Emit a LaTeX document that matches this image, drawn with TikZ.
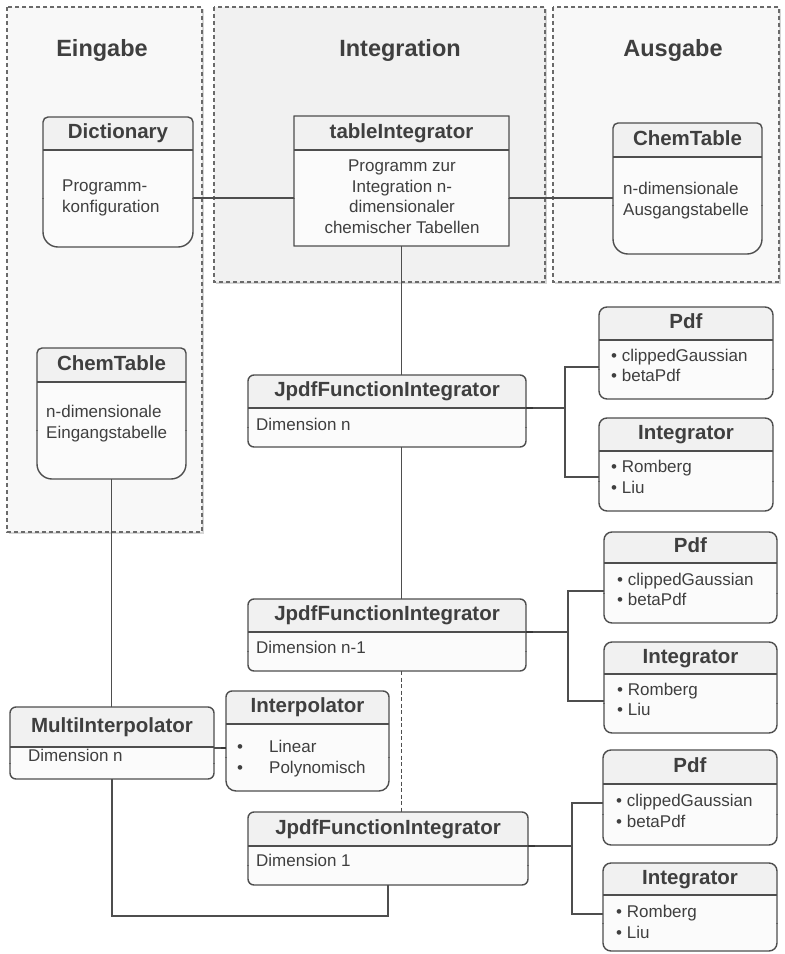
\documentclass[tikz,border=0pt]{standalone}
\usepackage{fontspec}
\setmainfont{Liberation Sans}
\usetikzlibrary{fit}

\definecolor{linec}{HTML}{4E4E4E}
\definecolor{textc}{HTML}{3F3F3F}
\definecolor{headc}{HTML}{F1F1F1}
\definecolor{bodyc}{HTML}{FBFBFB}
\definecolor{paneloutc}{HTML}{F8F8F8}
\definecolor{panelmidc}{HTML}{F1F1F1}
\definecolor{dashc}{HTML}{6A6A6A}
\definecolor{shadowc}{HTML}{D6D6D6}

\tikzset{
  conn/.style={draw=linec, line width=1.5pt},
  dashconn/.style={draw=linec, line width=1.4pt, dash pattern=on 4pt off 2.5pt},
  stub/.style={draw=linec!70!black, line width=2.8pt},
  panel/.style={draw=dashc, line width=1.1pt, dash pattern=on 4pt off 3pt},
  titletext/.style={font=\fontsize{23.5}{28}\selectfont\bfseries, text=textc, inner sep=0pt, anchor=base},
  headtext/.style={font=\fontsize{20.5}{24}\selectfont\bfseries, text=textc, inner sep=0pt,
    text height=0.716em, text depth=0pt, anchor=center},
  bodytext/.style={font=\fontsize{17}{21}\selectfont, text=textc, inner sep=0pt,
    text height=0.716em, text depth=0pt, anchor=west},
  boxarea/.style={inner sep=0pt, outer sep=0pt},
}

% class box: #1 name, #2 x1, #3 y1, #4 x2, #5 y2, #6 header line,
%            #7 upper corner radius, #8 lower corner radius, #9 title
\newcommand{\classbox}[9]{%
  \begin{scope}
    \clip (#2-5,#3-5) rectangle (#4+5,{(#6+#5)/2});
    \fill[bodyc, rounded corners=#7pt] (#2,#3) rectangle (#4,#5);
  \end{scope}
  \begin{scope}
    \clip (#2-5,{(#6+#5)/2}) rectangle (#4+5,#5+5);
    \fill[bodyc, rounded corners=#8pt] (#2,#3) rectangle (#4,#5);
  \end{scope}
  \begin{scope}
    \clip (#2-5,#3-5) rectangle (#4+5,#6);
    \fill[headc, rounded corners=#7pt] (#2,#3) rectangle (#4,#5);
  \end{scope}
  \draw[draw=linec, line width=1.4pt] (#2,#6) -- (#4,#6);
  \begin{scope}
    \clip (#2-5,#3-5) rectangle (#4+5,{(#6+#5)/2});
    \draw[draw=linec, line width=1.4pt, rounded corners=#7pt] (#2,#3) rectangle (#4,#5);
  \end{scope}
  \begin{scope}
    \clip (#2-5,{(#6+#5)/2}) rectangle (#4+5,#5+5);
    \draw[draw=linec, line width=1.4pt, rounded corners=#8pt] (#2,#3) rectangle (#4,#5);
  \end{scope}
  \node[boxarea, fit={(#2,#3) (#4,#5)}] (#1) {};
  \node[headtext] (#1-title) at ({(#2+#4)/2},{(#3+#6)/2+1.5}) {#9};
}

\begin{document}
\begin{tikzpicture}[x=1pt, y=-1pt]
  \fill[white] (0,0) rectangle (785,954);
  \useasboundingbox (0,0) rectangle (785,954);

  % ---- swimlanes ----
  \fill[shadowc] (9,9) rectangle (204,534);
  \fill[shadowc] (216,9) rectangle (547,284);
  \fill[shadowc] (555,9) rectangle (781,284);
  \filldraw[panel, fill=paneloutc] (7,7) rectangle (202,532);
  \filldraw[panel, fill=panelmidc] (214,7) rectangle (545,282);
  \filldraw[panel, fill=paneloutc] (553,7) rectangle (779,282);

  \node[titletext] (lane-in)  at (102,56) {Eingabe};
  \node[titletext] (lane-int) at (400,56) {Integration};
  \node[titletext] (lane-out) at (673,56) {Ausgabe};

  % ---- classes ----
  \classbox{dict}{43}{117}{193}{247}{150}{5}{15}{Dictionary}
  \node[bodytext] (dict-l1) at (62,188) {Programm-};
  \node[bodytext] (dict-l2) at (62,209) {konfiguration};

  \classbox{ti}{294}{116}{509}{246}{150}{0.01}{0.01}{tableIntegrator}
  \node[bodytext, anchor=center] (ti-l1) at (402,168) {Programm zur};
  \node[bodytext, anchor=center] (ti-l2) at (402,189) {Integration n-};
  \node[bodytext, anchor=center] (ti-l3) at (402,209) {dimensionaler};
  \node[bodytext, anchor=center] (ti-l4) at (402,230) {chemischer Tabellen};

  \classbox{cout}{613}{123}{762}{254}{157}{5}{15}{ChemTable}
  \node[bodytext] (cout-l1) at (623,191) {n-dimensionale};
  \node[bodytext] (cout-l2) at (623,212) {Ausgangstabelle};

  \classbox{cin}{37}{348}{186}{479}{382}{5}{15}{ChemTable}
  \node[bodytext] (cin-l1) at (46,414) {n-dimensionale};
  \node[bodytext] (cin-l2) at (46,435) {Eingangstabelle};

  \classbox{j1}{248}{375}{526}{447}{408}{6}{6}{JpdfFunctionIntegrator}
  \node[bodytext] (j1-l1) at (256,427) {Dimension n};
  \classbox{pdf1}{599}{307}{773}{399}{340}{8}{8}{Pdf}
  \node[bodytext] (pdf1-l1) at (611,358) {\textbullet\ clippedGaussian};
  \node[bodytext] (pdf1-l2) at (611,378) {\textbullet\ betaPdf};
  \classbox{int1}{599}{418}{773}{511}{451}{8}{8}{Integrator}
  \node[bodytext] (int1-l1) at (611,469) {\textbullet\ Romberg};
  \node[bodytext] (int1-l2) at (611,490) {\textbullet\ Liu};

  \classbox{j2}{248}{599}{526}{671}{632}{6}{6}{JpdfFunctionIntegrator}
  \node[bodytext] (j2-l1) at (256,650) {Dimension n-1};
  \classbox{pdf2}{604}{532}{777}{623}{563}{8}{8}{Pdf}
  \node[bodytext] (pdf2-l1) at (617,582) {\textbullet\ clippedGaussian};
  \node[bodytext] (pdf2-l2) at (617,602) {\textbullet\ betaPdf};
  \classbox{int2}{604}{642}{777}{733}{674}{8}{8}{Integrator}
  \node[bodytext] (int2-l1) at (617,692) {\textbullet\ Romberg};
  \node[bodytext] (int2-l2) at (617,712) {\textbullet\ Liu};

  \classbox{j3}{248}{812}{528}{885}{846}{6}{6}{JpdfFunctionIntegrator}
  \node[bodytext] (j3-l1) at (256,863) {Dimension 1};
  \classbox{pdf3}{603}{750}{777}{845}{784}{8}{8}{Pdf}
  \node[bodytext] (pdf3-l1) at (616,803) {\textbullet\ clippedGaussian};
  \node[bodytext] (pdf3-l2) at (616,824) {\textbullet\ betaPdf};
  \classbox{int3}{603}{863}{777}{951}{895}{8}{8}{Integrator}
  \node[bodytext] (int3-l1) at (616,914) {\textbullet\ Romberg};
  \node[bodytext] (int3-l2) at (616,935) {\textbullet\ Liu};

  \classbox{mi}{10}{707}{214}{779}{747}{6}{6}{MultiInterpolator}
  \node[bodytext] (mi-l1) at (28,758) {Dimension n};

  \classbox{ip}{226}{691}{389}{791}{724}{6}{10}{Interpolator}
  \node[bodytext] (ip-l1) at (237,749) {\makebox[32pt][l]{\textbullet}Linear};
  \node[bodytext] (ip-l2) at (237,770) {\makebox[32pt][l]{\textbullet}Polynomisch};

  % ---- connector ports ----
  \coordinate (dictR) at (193,198);
  \coordinate (tiL)   at (294,198);
  \coordinate (tiR)   at (509,198);
  \coordinate (coutL) at (613,198);

  \coordinate (j1R) at (526,408);
  \coordinate (j1fork) at (565,408);
  \coordinate (pdf1L) at (599,367);
  \coordinate (int1L) at (599,477);

  \coordinate (j2R) at (526,632);
  \coordinate (j2fork) at (568,632);
  \coordinate (pdf2L) at (604,591);
  \coordinate (int2L) at (604,701);

  \coordinate (j3R) at (528,846);
  \coordinate (j3fork) at (572,846);
  \coordinate (pdf3L) at (603,803);
  \coordinate (int3L) at (603,914);

  \coordinate (miR) at (214,748);
  \coordinate (ipL) at (226,748);
  \coordinate (bend) at (j3.south |- 0,916);

  % ---- connectors ----
  \draw[conn] (dictR) -- (tiL);
  \draw[conn] (tiR) -- (coutL);
  \draw[conn] (ti.south) -- (ti.south |- j1.north);
  \draw[conn] (ti.south |- j1.south) -- (ti.south |- j2.north);
  \draw[dashconn] (ti.south |- j2.south) -- (ti.south |- j3.north);

  \draw[conn] (j1R) -- (j1fork);
  \draw[conn] (pdf1L) -| (j1fork) |- (int1L);
  \draw[stub] (j1R) -- ++(7,0);

  \draw[conn] (j2R) -- (j2fork);
  \draw[conn] (pdf2L) -| (j2fork) |- (int2L);
  \draw[stub] (j2R) -- ++(7,0);

  \draw[conn] (j3R) -- (j3fork);
  \draw[conn] (pdf3L) -| (j3fork) |- (int3L);
  \draw[stub] (j3R) -- ++(7,0);

  \draw[conn] (cin.south) -- (cin.south |- mi.north);
  \draw[conn] (mi.south) |- (bend) -- (j3.south);
  \draw[conn] (miR) -- (ipL);
  \draw[stub, line width=2pt] (ipL) -- ++(-5,0);
\end{tikzpicture}
\end{document}
